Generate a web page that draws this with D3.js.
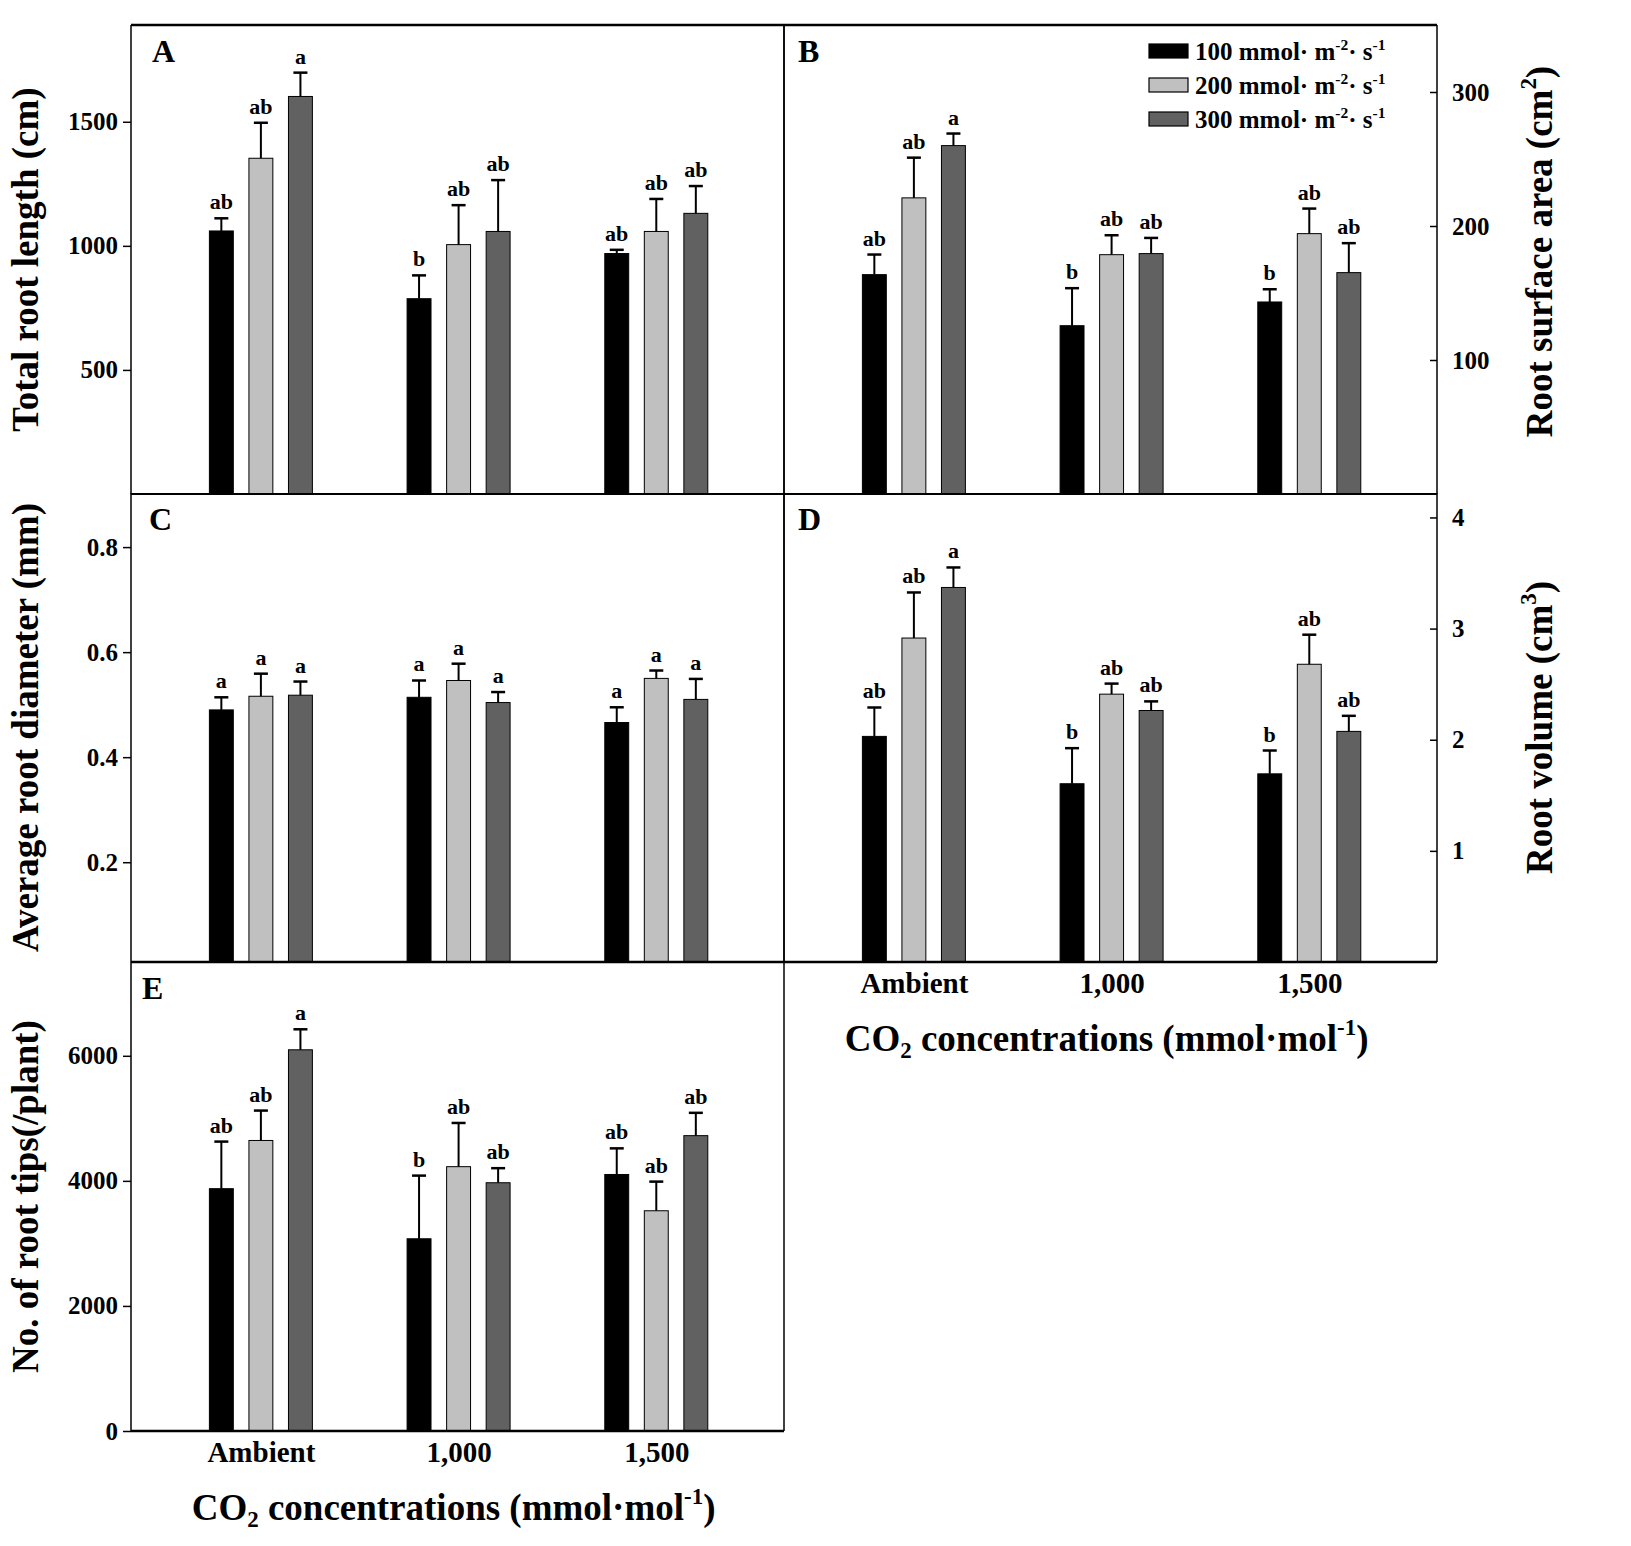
<!DOCTYPE html>
<html><head><meta charset="utf-8">
<script src="https://cdn.jsdelivr.net/npm/d3@7"></script>
<style>
body{margin:0;background:#fff}
text{font-family:"Liberation Serif","Times New Roman",serif;font-weight:bold;fill:#000}
</style>
</head><body>
<svg id="fig" width="1631" height="1546"></svg>
<script>
// ---------- DATA ----------
const categories = ["Ambient", "1,000", "1,500"];
const seriesLevels = ["100", "200", "300"];   // mmol·m-2·s-1

// each inner array = one CO2 category, values for 100 / 200 / 300 series
const lengthMean = [[1060, 1353, 1602], [787, 1005, 1058], [969, 1058, 1131]];
const lengthErr  = [[51, 143, 96], [94, 159, 207], [15, 131, 110]];
const lengthSig  = [["ab", "ab", "a"], ["b", "ab", "ab"], ["ab", "ab", "ab"]];
const lengthTicks = [500, 1000, 1500];

const areaMean = [[163.7, 221, 260], [125.6, 178.6, 179.4], [143.3, 194.3, 165.2]];
const areaErr  = [[15, 30, 9], [28, 14.5, 11.7], [9.5, 18.7, 22]];
const areaSig  = [["ab", "ab", "a"], ["b", "ab", "ab"], ["b", "ab", "ab"]];
const areaTicks = [100, 200, 300];

const diamMean = [[0.490, 0.516, 0.518], [0.514, 0.546, 0.504], [0.466, 0.550, 0.510]];
const diamErr  = [[0.024, 0.043, 0.026], [0.032, 0.032, 0.020], [0.029, 0.015, 0.039]];
const diamSig  = [["a", "a", "a"], ["a", "a", "a"], ["a", "a", "a"]];
const diamTicks = [0.2, 0.4, 0.6, 0.8];

const volMean = [[2.03, 2.915, 3.37], [1.604, 2.41, 2.263], [1.693, 2.679, 2.075]];
const volErr  = [[0.26, 0.41, 0.18], [0.32, 0.095, 0.082], [0.21, 0.266, 0.14]];
const volSig  = [["ab", "ab", "a"], ["b", "ab", "ab"], ["b", "ab", "ab"]];
const volTicks = [1, 2, 3, 4];

const tipsMean = [[3875, 4646, 6096], [3074, 4227, 3970], [4102, 3522, 4723]];
const tipsErr  = [[753, 478, 328], [1010, 699, 233], [418, 466, 365]];
const tipsSig  = [["ab", "ab", "a"], ["b", "ab", "ab"], ["ab", "ab", "ab"]];
const tipsTicks = [0, 2000, 4000, 6000];

// ---------- STYLE / LAYOUT ----------
const fills = ["#000000", "#c0c0c0", "#616161"];
const FONT = '"Liberation Serif","Times New Roman",serif';
const svg = d3.select("#fig");

const PW = 653, PH = 469;
const panels = [
  {id:"A", x0:131, y0:25, mean:lengthMean, err:lengthErr, sig:lengthSig, ticks:lengthTicks, domain:[0,1890], fmt:d3.format("d"), side:"left",
   title:[["Total root length (cm)"]], titleDy:0, labelDx:21, xLabels:false, bottomW:2},
  {id:"B", x0:784, y0:25, mean:areaMean, err:areaErr, sig:areaSig, ticks:areaTicks, domain:[0,350], fmt:d3.format("d"), side:"right",
   title:[["Root surface area (cm"],["2","sup"],[")"]], titleDy:-8, labelDx:14, xLabels:false, legend:true, bottomW:2},
  {id:"C", x0:131, y0:493, mean:diamMean, err:diamErr, sig:diamSig, ticks:diamTicks, domain:[0.01,0.903], fmt:d3.format(".1f"), side:"left",
   title:[["Average root diameter (mm)"]], titleDy:0, labelDx:18, xLabels:false, bottomW:2.5},
  {id:"D", x0:784, y0:493, mean:volMean, err:volErr, sig:volSig, ticks:volTicks, domain:[0,4.22], fmt:d3.format("d"), side:"right",
   title:[["Root volume (cm"],["3","sup"],[")"]], titleDy:0, labelDx:14, xLabels:true, bottomW:2.5},
  {id:"E", x0:131, y0:962, mean:tipsMean, err:tipsErr, sig:tipsSig, ticks:tipsTicks, domain:[0,7500], fmt:d3.format("d"), side:"left",
   title:[["No. of root tips(/plant)"]], titleDy:0, labelDx:11, xLabels:true, bottomW:2.5}
];

const offsets = [-0.2, 0, 0.2];
const barW = 0.121;

function addParts(textSel, parts, baseSize){
  parts.forEach(p => {
    const t = textSel.append("tspan").text(p[0]);
    if (p[1] === "sup") { t.attr("font-size", baseSize*0.62).attr("dy", -baseSize*0.42); }
    else if (p[1] === "sub") { t.attr("font-size", baseSize*0.62).attr("dy", baseSize*0.2); }
    else if (p[1] === "back") { t.attr("dy", p[2]); }
  });
}

panels.forEach(p => {
  const g = svg.append("g").attr("transform", `translate(${p.x0},${p.y0})`);
  const x = d3.scaleLinear().domain([-0.657, 2.646]).range([0, PW]);
  const y = d3.scaleLinear().domain(p.domain).range([PH, 0]);

  // bars
  const recs = [];
  p.mean.forEach((row, ci) => row.forEach((v, si) => recs.push({ci, si, v, e:p.err[ci][si], s:p.sig[ci][si]})));
  g.selectAll("rect.bar").data(recs).join("rect")
    .attr("class","bar")
    .attr("x", d => x(d.ci + offsets[d.si] - barW/2))
    .attr("width", d => x(barW) - x(0))
    .attr("y", d => y(d.v))
    .attr("height", d => PH - y(d.v))
    .attr("fill", d => fills[d.si])
    .attr("stroke", "#000").attr("stroke-width", 1);

  // error bars
  const cap = 7;
  const eb = g.selectAll("g.eb").data(recs).join("g").attr("class","eb");
  eb.append("line")
    .attr("x1", d => x(d.ci + offsets[d.si])).attr("x2", d => x(d.ci + offsets[d.si]))
    .attr("y1", d => y(d.v)).attr("y2", d => y(d.v + d.e))
    .attr("stroke", "#000").attr("stroke-width", 2);
  eb.append("line")
    .attr("x1", d => x(d.ci + offsets[d.si]) - cap).attr("x2", d => x(d.ci + offsets[d.si]) + cap)
    .attr("y1", d => y(d.v + d.e)).attr("y2", d => y(d.v + d.e))
    .attr("stroke", "#000").attr("stroke-width", 2.5);
  // significance letters
  g.selectAll("text.sig").data(recs).join("text").attr("class","sig")
    .attr("x", d => x(d.ci + offsets[d.si]))
    .attr("y", d => y(d.v + d.e) - 9)
    .attr("text-anchor","middle").attr("font-size", 22)
    .text(d => d.s);

  // y axis
  if (p.side === "left") {
    const ax = g.append("g").call(d3.axisLeft(y).tickValues(p.ticks).tickFormat(p.fmt).tickSize(8).tickPadding(5));
    ax.select(".domain").remove();
    ax.selectAll("line").attr("stroke","#000").attr("stroke-width",1.5);
    ax.selectAll("text").attr("font-size", 25).attr("font-family", FONT).attr("font-weight","bold").attr("fill","#000");
  } else {
    const ax = g.append("g").attr("transform", `translate(${PW},0)`)
      .call(d3.axisRight(y).tickValues(p.ticks).tickFormat(p.fmt).tickSize(-7).tickPadding(15));
    ax.select(".domain").remove();
    ax.selectAll("line").attr("stroke","#000").attr("stroke-width",1.5);
    ax.selectAll("text").attr("font-size", 25).attr("font-family", FONT).attr("font-weight","bold").attr("fill","#000");
  }

  // x category labels
  if (p.xLabels) {
    const ax = g.append("g").attr("transform", `translate(0,${PH})`)
      .call(d3.axisBottom(x).tickValues([0,1,2]).tickFormat(i => categories[i]).tickSize(0).tickPadding(10));
    ax.select(".domain").remove();
    ax.selectAll("text").attr("font-size", 29).attr("font-family", FONT).attr("font-weight","bold").attr("fill","#000");
    const xt = g.append("text").attr("x", x(1) - 5).attr("y", PH + 89).attr("text-anchor","middle").attr("font-size", 37);
    addParts(xt, [["CO"],["2","sub"],[" concentrations (mmol·mol","back",-37*0.2],["-1","sup"],[")","back",37*0.42]], 37);
  }

  // frame
  g.append("line").attr("x1",0).attr("x2",PW).attr("y1",PH).attr("y2",PH).attr("stroke","#000").attr("stroke-width",p.bottomW);
  g.append("line").attr("x1",0).attr("x2",0).attr("y1",0).attr("y2",PH).attr("stroke","#000").attr("stroke-width",1.5);
  g.append("line").attr("x1",PW).attr("x2",PW).attr("y1",0).attr("y2",PH).attr("stroke","#000").attr("stroke-width",1.5);
  if (p.y0 === 25) g.append("line").attr("x1",0).attr("x2",PW).attr("y1",0).attr("y2",0).attr("stroke","#000").attr("stroke-width",2.5);

  // panel letter
  g.append("text").attr("x", p.labelDx).attr("y", 37).attr("font-size", 32).text(p.id);

  // y title
  const tx = p.side === "left" ? 38 - p.x0 : 1552 - p.x0;
  const tt = g.append("text").attr("transform", `translate(${tx},${PH/2 + p.titleDy}) rotate(-90)`)
    .attr("text-anchor","middle").attr("font-size", 37);
  addParts(tt, p.title.map((a,i,arr) => (i>0 && arr[i-1][1]==="sup") ? [a[0],"back",37*0.42] : a), 37);

  // legend
  if (p.legend) {
    const lg = g.append("g").attr("transform", "translate(365,19)");
    seriesLevels.forEach((lv, i) => {
      const r = lg.append("g").attr("transform", `translate(0,${i*34})`);
      r.append("rect").attr("x",0).attr("y",0).attr("width",39).attr("height",14)
        .attr("fill", fills[i]).attr("stroke","#000").attr("stroke-width",1.2);
      const t = r.append("text").attr("x",46).attr("y",16).attr("font-size",25);
      addParts(t, [[lv + " mmol· m"],["-2","sup"],["· s","back",25*0.42],["-1","sup"]], 25);
    });
  }
});
</script>
</body></html>
